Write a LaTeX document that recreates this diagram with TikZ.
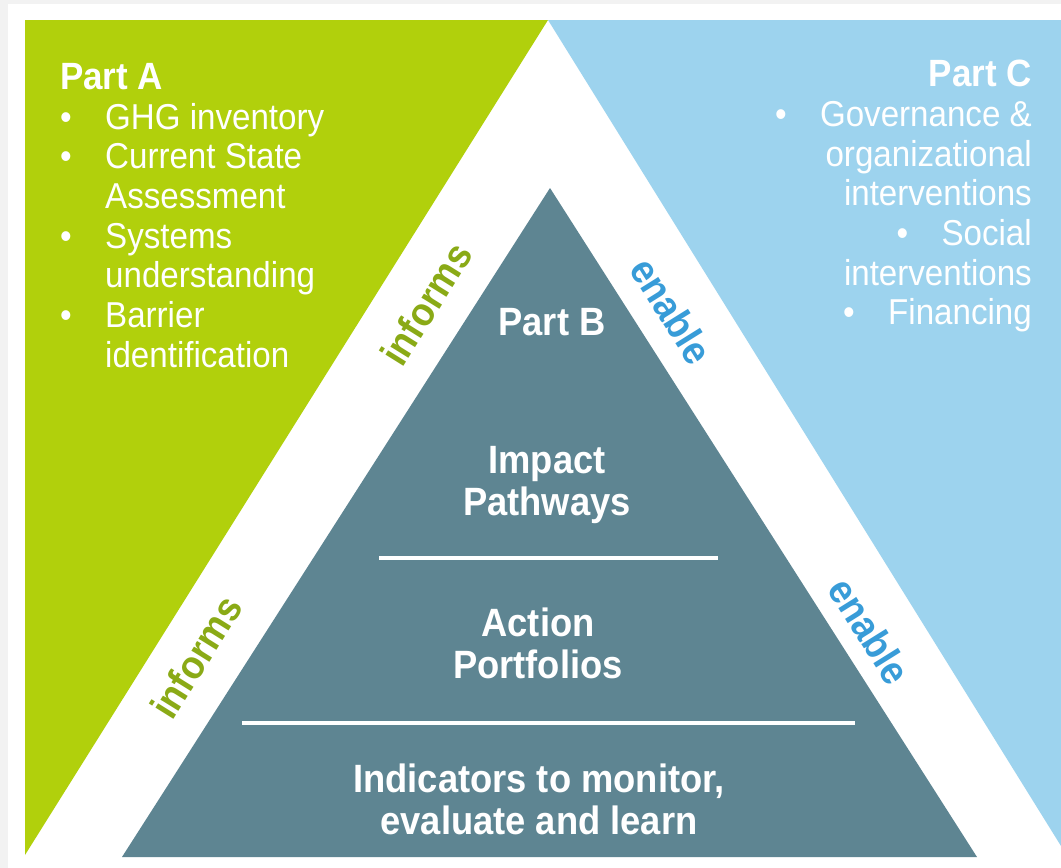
\documentclass[tikz,border=0pt]{standalone}
\usepackage{fontspec}
\setmainfont{Liberation Sans}[FakeStretch=0.92]
\definecolor{partA}{RGB}{177,208,12}
\definecolor{partC}{RGB}{157,211,238}
\definecolor{partB}{RGB}{94,133,146}
\definecolor{informs}{RGB}{138,170,22}
\definecolor{enable}{RGB}{56,156,216}
\tikzset{
  side/.style={font=\fontsize{36}{39.7}\selectfont, text=white, inner sep=0pt},
  tier/.style={font=\bfseries\fontsize{39.5}{42}\selectfont, text=white, align=center, inner sep=0pt},
  verb/.style={font=\bfseries\fontsize{40}{40}\selectfont, inner sep=0pt},
  divider/.style={white, line width=4.5pt},
}
\newcommand{\itm}{\makebox[45pt][l]{\textbullet}}
\newcommand{\cnt}{\hspace*{45pt}}

\begin{document}
\begin{tikzpicture}[x=1pt,y=-1pt]
  \fill[black!5] (0,0) rectangle (1061,868);
  \fill[white] (8,4) rectangle (1061,868);
  \fill[partA] (25,20) -- (548,20) -- (25,855) -- cycle;
  \fill[partC] (548,20) -- (1061,20) -- (1061,846) -- cycle;
  \fill[partB] (550,188) -- (977,857) -- (122,857) -- cycle;
  \draw[divider] (379,558) -- (718,558);
  \draw[divider] (242,723) -- (855,723);

  \node[side, anchor=north west, align=left] (A) at (60,63)
    {{\bfseries\fontsize{38}{41}\selectfont Part A}\\
     \itm GHG inventory\\
     \itm Current State\\
     \cnt Assessment\\
     \itm Systems\\
     \cnt understanding\\
     \itm Barrier\\
     \cnt identification};
  \node[side, anchor=north east, align=right] (C) at (1032,60)
    {{\bfseries\fontsize{38}{41}\selectfont Part C}\\
     \itm Governance \&\\
     organizational\\
     interventions\\
     \itm Social\\
     interventions\\
     \itm Financing};

  \node[tier] (B) at (552,322) {Part B};
  \node[tier] (B1) at (547,485) {Impact\\Pathways};
  \node[tier] (B2) at (538,643) {Action\\Portfolios};
  \node[tier] (B3) at (539,799) {Indicators to monitor,\\evaluate and learn};

  \node[verb, text=informs, rotate=58] (i1) at (426,304) {informs};
  \node[verb, text=informs, rotate=58] (i2) at (196,657) {informs};
  \node[verb, text=enable, rotate=-58] (e1) at (672,311) {enable};
  \node[verb, text=enable, rotate=-58] (e2) at (870,631) {enable};
\end{tikzpicture}
\end{document}
